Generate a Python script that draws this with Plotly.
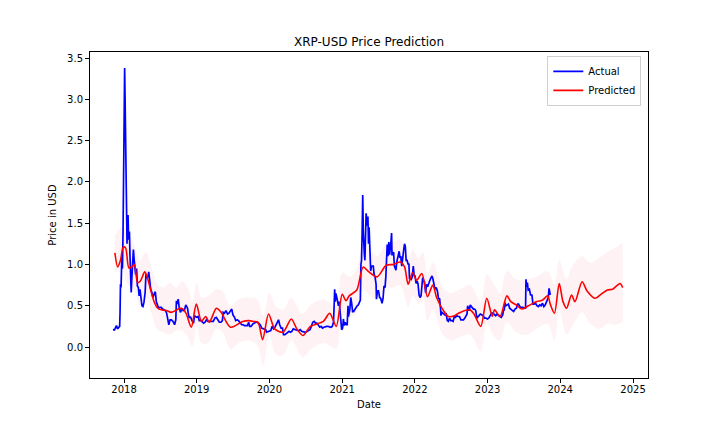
import plotly.graph_objects as go

actual_dates = ["2017-11-09","2017-11-13","2017-11-18","2017-11-24","2017-11-29","2017-12-05","2017-12-10","2017-12-12","2017-12-14","2017-12-17","2017-12-21","2017-12-24","2017-12-27","2017-12-29","2017-12-31","2018-01-02","2018-01-04","2018-01-06","2018-01-08","2018-01-10","2018-01-13","2018-01-16","2018-01-18","2018-01-21","2018-01-24","2018-01-28","2018-01-31","2018-02-03","2018-02-06","2018-02-08","2018-02-11","2018-02-14","2018-02-17","2018-02-20","2018-02-24","2018-02-28","2018-03-05","2018-03-09","2018-03-14","2018-03-18","2018-03-22","2018-03-27","2018-04-01","2018-04-06","2018-04-11","2018-04-17","2018-04-21","2018-04-25","2018-05-01","2018-05-05","2018-05-10","2018-05-15","2018-05-21","2018-05-26","2018-06-01","2018-06-07","2018-06-12","2018-06-18","2018-06-24","2018-06-30","2018-07-07","2018-07-14","2018-07-22","2018-07-28","2018-08-03","2018-08-10","2018-08-14","2018-08-20","2018-08-27","2018-09-04","2018-09-12","2018-09-18","2018-09-21","2018-09-25","2018-09-30","2018-10-05","2018-10-11","2018-10-18","2018-10-25","2018-11-01","2018-11-07","2018-11-12","2018-11-16","2018-11-20","2018-11-25","2018-11-30","2018-12-06","2018-12-12","2018-12-16","2018-12-21","2018-12-26","2019-01-01","2019-01-08","2019-01-14","2019-01-22","2019-01-29","2019-02-05","2019-02-12","2019-02-19","2019-02-26","2019-03-05","2019-03-15","2019-03-25","2019-04-02","2019-04-09","2019-04-17","2019-04-25","2019-05-03","2019-05-10","2019-05-14","2019-05-20","2019-05-28","2019-06-05","2019-06-12","2019-06-20","2019-06-26","2019-07-02","2019-07-10","2019-07-16","2019-07-23","2019-07-30","2019-08-07","2019-08-15","2019-08-22","2019-08-29","2019-09-06","2019-09-13","2019-09-19","2019-09-24","2019-10-01","2019-10-10","2019-10-18","2019-10-25","2019-11-02","2019-11-09","2019-11-16","2019-11-23","2019-11-30","2019-12-07","2019-12-14","2019-12-18","2019-12-25","2020-01-01","2020-01-08","2020-01-15","2020-01-22","2020-01-29","2020-02-05","2020-02-12","2020-02-16","2020-02-22","2020-02-29","2020-03-07","2020-03-12","2020-03-19","2020-03-26","2020-04-02","2020-04-09","2020-04-16","2020-04-23","2020-04-30","2020-05-07","2020-05-14","2020-05-21","2020-05-28","2020-06-04","2020-06-11","2020-06-18","2020-06-25","2020-07-02","2020-07-09","2020-07-16","2020-07-23","2020-07-30","2020-08-06","2020-08-13","2020-08-20","2020-08-27","2020-09-03","2020-09-10","2020-09-17","2020-09-24","2020-10-01","2020-10-08","2020-10-15","2020-10-22","2020-10-29","2020-11-05","2020-11-12","2020-11-18","2020-11-21","2020-11-24","2020-11-27","2020-11-30","2020-12-04","2020-12-09","2020-12-13","2020-12-17","2020-12-21","2020-12-23","2020-12-26","2020-12-29","2021-01-03","2021-01-07","2021-01-11","2021-01-16","2021-01-21","2021-01-26","2021-01-30","2021-02-01","2021-02-08","2021-02-13","2021-02-18","2021-02-22","2021-02-27","2021-03-05","2021-03-11","2021-03-17","2021-03-23","2021-03-29","2021-04-02","2021-04-05","2021-04-08","2021-04-11","2021-04-14","2021-04-17","2021-04-19","2021-04-22","2021-04-25","2021-04-28","2021-05-01","2021-05-04","2021-05-07","2021-05-10","2021-05-13","2021-05-16","2021-05-19","2021-05-21","2021-05-24","2021-05-28","2021-06-01","2021-06-06","2021-06-10","2021-06-15","2021-06-20","2021-06-22","2021-06-27","2021-07-02","2021-07-08","2021-07-13","2021-07-20","2021-07-25","2021-07-30","2021-08-04","2021-08-08","2021-08-12","2021-08-15","2021-08-19","2021-08-23","2021-08-27","2021-08-31","2021-09-03","2021-09-06","2021-09-08","2021-09-12","2021-09-16","2021-09-20","2021-09-24","2021-09-28","2021-10-02","2021-10-06","2021-10-10","2021-10-14","2021-10-18","2021-10-22","2021-10-27","2021-11-01","2021-11-06","2021-11-10","2021-11-14","2021-11-18","2021-11-23","2021-11-28","2021-12-02","2021-12-05","2021-12-09","2021-12-14","2021-12-19","2021-12-24","2021-12-28","2022-01-02","2022-01-07","2022-01-12","2022-01-17","2022-01-22","2022-01-27","2022-02-01","2022-02-05","2022-02-09","2022-02-14","2022-02-18","2022-02-24","2022-03-01","2022-03-06","2022-03-11","2022-03-16","2022-03-21","2022-03-28","2022-04-02","2022-04-07","2022-04-12","2022-04-18","2022-04-24","2022-04-30","2022-05-05","2022-05-10","2022-05-12","2022-05-16","2022-05-21","2022-05-27","2022-06-01","2022-06-07","2022-06-13","2022-06-18","2022-06-24","2022-06-30","2022-07-06","2022-07-12","2022-07-18","2022-07-24","2022-07-30","2022-08-06","2022-08-13","2022-08-20","2022-08-27","2022-09-02","2022-09-09","2022-09-15","2022-09-20","2022-09-23","2022-09-27","2022-10-01","2022-10-06","2022-10-11","2022-10-16","2022-10-22","2022-10-28","2022-11-03","2022-11-08","2022-11-13","2022-11-19","2022-11-26","2022-12-03","2022-12-10","2022-12-17","2022-12-24","2022-12-31","2023-01-07","2023-01-14","2023-01-21","2023-01-28","2023-02-04","2023-02-11","2023-02-18","2023-02-25","2023-03-04","2023-03-11","2023-03-18","2023-03-22","2023-03-26","2023-03-29","2023-04-04","2023-04-10","2023-04-16","2023-04-22","2023-04-28","2023-05-05","2023-05-12","2023-05-19","2023-05-26","2023-06-01","2023-06-06","2023-06-10","2023-06-16","2023-06-22","2023-06-28","2023-07-05","2023-07-11","2023-07-13","2023-07-16","2023-07-20","2023-07-24","2023-07-30","2023-08-05","2023-08-12","2023-08-17","2023-08-23","2023-08-30","2023-09-06","2023-09-13","2023-09-20","2023-09-27","2023-10-04","2023-10-11","2023-10-18","2023-10-24","2023-10-30","2023-11-02","2023-11-06","2023-11-09","2023-11-12"]
actual_values = [0.22,0.20,0.23,0.26,0.22,0.24,0.25,0.42,0.76,0.72,1.10,0.95,1.40,2.05,2.20,2.40,3.38,3.05,2.50,1.98,2.00,1.25,1.55,1.60,1.30,1.40,1.10,0.93,0.66,0.78,1.00,1.15,1.18,1.08,0.96,0.88,0.95,0.74,0.72,0.62,0.70,0.58,0.50,0.49,0.54,0.66,0.88,0.84,0.85,0.91,0.78,0.70,0.66,0.60,0.64,0.67,0.55,0.51,0.47,0.48,0.48,0.46,0.45,0.44,0.41,0.31,0.27,0.33,0.33,0.31,0.27,0.33,0.56,0.52,0.58,0.48,0.42,0.46,0.44,0.45,0.51,0.49,0.47,0.40,0.35,0.37,0.32,0.30,0.29,0.38,0.37,0.36,0.37,0.32,0.32,0.30,0.29,0.30,0.33,0.31,0.31,0.31,0.31,0.35,0.36,0.33,0.30,0.30,0.32,0.42,0.41,0.44,0.40,0.41,0.45,0.46,0.39,0.36,0.32,0.33,0.32,0.30,0.27,0.27,0.26,0.26,0.26,0.30,0.25,0.25,0.28,0.29,0.30,0.30,0.28,0.27,0.23,0.22,0.22,0.21,0.18,0.19,0.19,0.20,0.25,0.22,0.24,0.27,0.30,0.33,0.27,0.23,0.23,0.15,0.15,0.16,0.17,0.19,0.18,0.19,0.22,0.21,0.20,0.20,0.20,0.21,0.19,0.18,0.18,0.18,0.19,0.20,0.21,0.25,0.30,0.31,0.29,0.29,0.26,0.24,0.25,0.23,0.24,0.25,0.25,0.25,0.24,0.24,0.25,0.30,0.47,0.70,0.55,0.65,0.61,0.52,0.50,0.55,0.44,0.30,0.27,0.21,0.23,0.34,0.26,0.30,0.27,0.27,0.50,0.37,0.45,0.60,0.52,0.43,0.43,0.46,0.47,0.50,0.51,0.56,0.57,1.00,1.05,1.38,1.84,1.39,1.20,1.13,1.05,1.40,1.62,1.55,1.47,1.58,1.25,1.45,1.20,0.96,0.92,0.98,0.98,0.98,0.88,0.85,0.76,0.58,0.68,0.68,0.60,0.59,0.53,0.59,0.74,0.72,0.85,1.00,1.24,1.10,1.27,1.12,1.18,1.28,1.38,1.12,1.12,1.15,0.98,0.94,0.93,1.03,1.08,1.12,1.16,1.08,1.10,0.98,1.13,1.18,1.25,1.22,1.05,1.05,1.00,1.01,0.82,0.83,0.82,0.85,0.98,0.87,0.86,0.77,0.80,0.76,0.63,0.60,0.62,0.75,0.84,0.80,0.79,0.66,0.76,0.73,0.78,0.80,0.83,0.86,0.82,0.75,0.70,0.72,0.68,0.58,0.59,0.46,0.38,0.42,0.41,0.40,0.39,0.40,0.32,0.31,0.35,0.32,0.32,0.31,0.37,0.36,0.38,0.37,0.37,0.33,0.33,0.33,0.35,0.37,0.40,0.50,0.46,0.44,0.51,0.49,0.47,0.46,0.46,0.44,0.35,0.37,0.38,0.40,0.39,0.38,0.35,0.35,0.34,0.35,0.38,0.41,0.41,0.40,0.38,0.40,0.38,0.37,0.36,0.39,0.44,0.45,0.54,0.50,0.51,0.52,0.47,0.46,0.45,0.43,0.46,0.47,0.52,0.52,0.50,0.48,0.48,0.48,0.47,0.47,0.82,0.73,0.78,0.69,0.70,0.63,0.63,0.52,0.52,0.53,0.50,0.49,0.51,0.50,0.53,0.49,0.51,0.55,0.58,0.60,0.71,0.66,0.63]

pred_dates = ["2017-11-16","2017-11-30","2017-12-14","2017-12-28","2018-01-09","2018-01-25","2018-02-08","2018-02-22","2018-03-10","2018-03-24","2018-04-15","2018-04-28","2018-05-15","2018-06-01","2018-06-20","2018-07-10","2018-08-05","2018-08-25","2018-09-15","2018-10-08","2018-10-25","2018-11-10","2018-12-05","2018-12-30","2019-01-25","2019-02-15","2019-03-05","2019-04-10","2019-05-01","2019-06-20","2019-08-20","2019-09-20","2019-10-15","2019-11-05","2019-11-28","2019-12-28","2020-01-28","2020-03-10","2020-04-20","2020-05-18","2020-06-18","2020-07-25","2020-09-28","2020-10-30","2020-12-02","2021-01-01","2021-01-20","2021-02-05","2021-03-15","2021-04-16","2021-05-15","2021-06-25","2021-08-10","2021-09-15","2021-10-20","2021-11-10","2021-11-28","2021-12-20","2022-01-10","2022-02-05","2022-03-05","2022-04-01","2022-04-20","2022-05-22","2022-06-18","2022-07-20","2022-08-08","2022-10-05","2022-10-25","2022-11-28","2022-12-28","2023-01-25","2023-02-05","2023-03-05","2023-04-08","2023-04-28","2023-05-25","2023-06-22","2023-07-25","2023-09-05","2023-10-05","2023-10-30","2023-11-12","2023-12-03","2023-12-27","2024-01-15","2024-02-02","2024-02-27","2024-03-15","2024-04-20","2024-05-15","2024-06-25","2024-07-25","2024-08-25","2024-09-20","2024-10-10","2024-10-28","2024-11-10"]
pred_values = [1.14,0.97,1.05,1.21,1.20,0.96,0.97,1.00,0.78,0.80,0.91,0.84,0.69,0.55,0.47,0.45,0.44,0.42,0.44,0.47,0.46,0.40,0.24,0.52,0.31,0.37,0.30,0.47,0.43,0.24,0.31,0.32,0.31,0.30,0.09,0.40,0.22,0.18,0.34,0.22,0.14,0.25,0.31,0.41,0.25,0.64,0.56,0.62,0.69,0.97,0.91,0.85,0.99,1.00,1.03,0.97,0.76,0.90,0.81,0.89,0.61,0.75,0.60,0.45,0.37,0.38,0.41,0.45,0.40,0.25,0.59,0.37,0.45,0.37,0.62,0.55,0.51,0.46,0.50,0.55,0.57,0.62,0.52,0.41,0.77,0.55,0.47,0.63,0.55,0.79,0.68,0.59,0.64,0.69,0.70,0.74,0.77,0.72]

band_dates = ["2017-11-16","2017-12-20","2018-01-20","2018-02-20","2018-03-20","2018-04-20","2018-05-20","2018-06-20","2018-07-20","2018-08-20","2018-09-20","2018-10-20","2018-11-20","2018-12-10","2019-01-01","2019-01-25","2019-03-01","2019-04-10","2019-05-10","2019-06-20","2019-08-01","2019-09-20","2019-11-01","2019-12-01","2020-01-01","2020-02-01","2020-03-10","2020-04-20","2020-06-15","2020-08-01","2020-10-01","2020-12-01","2021-01-01","2021-02-10","2021-03-15","2021-04-16","2021-05-20","2021-06-25","2021-08-10","2021-09-15","2021-10-20","2021-11-28","2021-12-20","2022-01-20","2022-02-10","2022-03-05","2022-04-01","2022-05-22","2022-07-01","2022-08-15","2022-10-05","2022-11-28","2022-12-28","2023-02-05","2023-03-05","2023-04-08","2023-05-25","2023-07-25","2023-09-05","2023-10-30","2023-12-03","2023-12-27","2024-02-02","2024-03-01","2024-04-20","2024-06-01","2024-07-15","2024-08-25","2024-10-01","2024-11-10"]
band_upper = [1.35,1.45,1.40,1.25,1.05,1.15,0.95,0.75,0.72,0.78,0.72,0.80,0.70,0.55,0.78,0.60,0.62,0.70,0.68,0.50,0.58,0.60,0.58,0.38,0.66,0.50,0.45,0.60,0.40,0.52,0.58,0.50,0.90,0.85,0.95,1.22,1.18,1.10,1.25,1.28,1.30,1.05,1.18,1.08,1.15,0.88,1.02,0.72,0.65,0.70,0.75,0.55,0.88,0.75,0.65,0.92,0.82,0.82,0.85,0.92,0.75,1.05,0.82,0.98,1.10,1.02,1.08,1.15,1.20,1.27]
band_lower = [0.90,0.95,0.75,0.70,0.50,0.60,0.40,0.20,0.18,0.15,0.20,0.20,0.10,0.00,0.25,0.05,0.05,0.22,0.18,-0.02,0.05,0.08,0.02,-0.22,0.14,-0.08,-0.10,0.08,-0.12,-0.02,0.05,-0.02,0.38,0.35,0.42,0.70,0.62,0.58,0.72,0.72,0.75,0.48,0.62,0.52,0.60,0.32,0.45,0.15,0.08,0.12,0.15,-0.05,0.28,0.12,0.08,0.30,0.18,0.15,0.22,0.28,0.08,0.45,0.15,0.25,0.42,0.28,0.22,0.28,0.27,0.30]

fig = go.Figure()
fig.add_trace(go.Scatter(x=band_dates, y=band_upper, mode="lines", line=dict(width=0, shape="spline"),
                         showlegend=False, hoverinfo="skip"))
fig.add_trace(go.Scatter(x=band_dates, y=band_lower, mode="lines", line=dict(width=0, shape="spline"),
                         fill="tonexty", fillcolor="rgba(255,192,203,0.2)", showlegend=False, hoverinfo="skip"))
fig.add_trace(go.Scatter(x=actual_dates, y=actual_values, mode="lines", name="Actual",
                         line=dict(color="blue", width=1.7)))
fig.add_trace(go.Scatter(x=pred_dates, y=pred_values, mode="lines", name="Predicted",
                         line=dict(color="red", width=1.6, shape="spline", smoothing=0.8)))

axis_common = dict(showline=True, mirror=True, linecolor="black", linewidth=1, ticks="outside",
                   ticklen=4, tickwidth=1, tickcolor="black", showgrid=False, zeroline=False,
                   tickfont=dict(size=10, color="black"))
fig.update_layout(
    width=720, height=432,
    margin=dict(l=82, r=80, t=44, b=62),
    paper_bgcolor="white", plot_bgcolor="white",
    font=dict(family="DejaVu Sans", size=10, color="black"),
    title=dict(text="XRP-USD Price Prediction", x=0.5, xref="paper", y=1 - 34 / 432, yref="container",
               yanchor="middle", xanchor="center", font=dict(size=12, color="black")),
    xaxis=dict(axis_common, type="date", range=["2017-07-14", "2025-03-17"], tickformat="%Y",
               dtick="M12", tick0="2018-01-01", ticklabelstandoff=-2,
               title=dict(text="Date", standoff=6, font=dict(size=10))),
    yaxis=dict(axis_common, range=[-0.375, 3.573], dtick=0.5, tick0=0, tickformat=".1f",
               title=dict(text="Price in USD", standoff=8, font=dict(size=10))),
    legend=dict(x=0.988, y=0.988, xanchor="right", yanchor="top", bgcolor="white",
                bordercolor="#d0d0d0", borderwidth=1, font=dict(size=10), traceorder="normal",
                tracegroupgap=0, itemwidth=30),
)
fig.write_html("out.html")
